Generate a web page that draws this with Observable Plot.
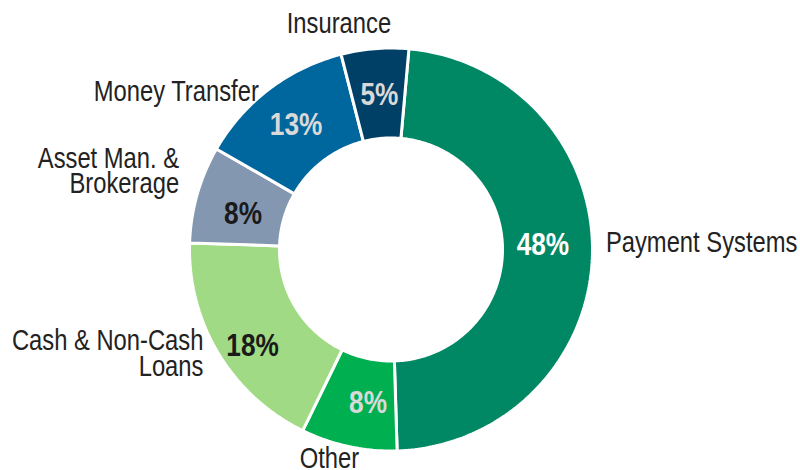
<!DOCTYPE html>
<html><head><meta charset="utf-8">
<script src="https://cdn.jsdelivr.net/npm/d3@7"></script>
<script src="https://cdn.jsdelivr.net/npm/@observablehq/plot@0.6"></script>
<style>body{margin:0;background:#fff}</style>
</head><body><div id="chart"></div>
<script>
// ---- data ----
const categories = ["Payment Systems", "Other", "Cash & Non-Cash\nLoans", "Asset Man. &\nBrokerage", "Money Transfer", "Insurance"];
const shares = [48.1, 7.7, 18.3, 7.8, 12.7, 5.4];
const pctLabels = ["48%", "8%", "18%", "8%", "13%", "5%"];

// ---- styles / layout ----
const sliceColors = ["#008763", "#00b050", "#a1da84", "#8497b0", "#00679e", "#003f66"];
const pctColors = ["#ffffff", "#d9d9d9", "#1a1a1a", "#1a1a1a", "#d9d9d9", "#d9d9d9"];
const labelAnchors = ["start", "middle", "end", "end", "end", "middle"];
const labelNudge = [[3, -12], [-17, 3], [-6, -4], [-8, -19], [-4, 12], [-35, -13]];
const pctNudge = [[-5, -9], [10, 0], [-4, 15], [3, 7], [0, 0], [1, 2]];
const W = 800, H = 470, CX = 390.5, CY = 249, R = 200;
const rOut = 201.5 / R, rIn = 111.5 / R, rPct = 157 / R, rLab = 212 / R;
const startDeg = 5.1;
const NARROW = 0.82;
const FONT = "'Liberation Sans', Arial, sans-serif";

// ---- geometry from data ----
const total = d3.sum(shares);
let acc = startDeg;
const slices = shares.map((v, i) => {
  const a0 = acc, a1 = acc + v / total * 360; acc = a1;
  return {k: categories[i], a0, a1, mid: (a0 + a1) / 2, i};
});
const rad = d => d * Math.PI / 180;
const pts = [];
for (const s of slices) {
  const n = Math.max(2, Math.ceil(s.a1 - s.a0));
  for (let j = 0; j <= n; j++) { const a = rad(s.a0 + (s.a1 - s.a0) * j / n); pts.push({k: s.k, x: rOut * Math.sin(a), y: rOut * Math.cos(a)}); }
  for (let j = n; j >= 0; j--) { const a = rad(s.a0 + (s.a1 - s.a0) * j / n); pts.push({k: s.k, x: rIn * Math.sin(a), y: rIn * Math.cos(a)}); }
}
const pctData = slices.map(s => ({text: pctLabels[s.i], c: pctColors[s.i], x: rPct * Math.sin(rad(s.mid)), y: rPct * Math.cos(rad(s.mid)), dx: pctNudge[s.i][0], dy: pctNudge[s.i][1]}));
const labData = slices.map(s => ({text: s.k, anchor: labelAnchors[s.i], x: rLab * Math.sin(rad(s.mid)), y: rLab * Math.cos(rad(s.mid)), dx: labelNudge[s.i][0], dy: labelNudge[s.i][1]}));

const marks = [
  Plot.line(pts, {x: "x", y: "y", z: "k", fill: "k", stroke: "white", strokeWidth: 3, strokeLinejoin: "miter", curve: "linear-closed"})
];
for (const d of pctData) {
  marks.push(Plot.text([d], {x: "x", y: "y", text: "text", fill: d.c, fontSize: 32, fontWeight: "bold", fontFamily: FONT, dx: d.dx, dy: d.dy}));
}
for (const d of labData) {
  marks.push(Plot.text([d], {x: "x", y: "y", text: "text", fill: "#222", fontSize: 29, fontFamily: FONT, textAnchor: d.anchor, lineHeight: 0.87, dx: d.dx, dy: d.dy}));
}

const chart = Plot.plot({
  width: W, height: H, margin: 0,
  x: {domain: [-CX / R, (W - CX) / R], range: [0, W], axis: null},
  y: {domain: [-(H - CY) / R, CY / R], range: [H, 0], axis: null},
  color: {domain: categories, range: sliceColors},
  style: {background: "#fff", fontFamily: FONT},
  marks
});
// emulate a narrow (Arial Narrow-like) face by compressing each text horizontally
chart.querySelectorAll("text").forEach(t => {
  const tr = t.getAttribute("transform") || "";
  t.setAttribute("transform", tr + ` scale(${NARROW},1)`);
});
document.getElementById("chart").append(chart);
</script>
</body></html>
